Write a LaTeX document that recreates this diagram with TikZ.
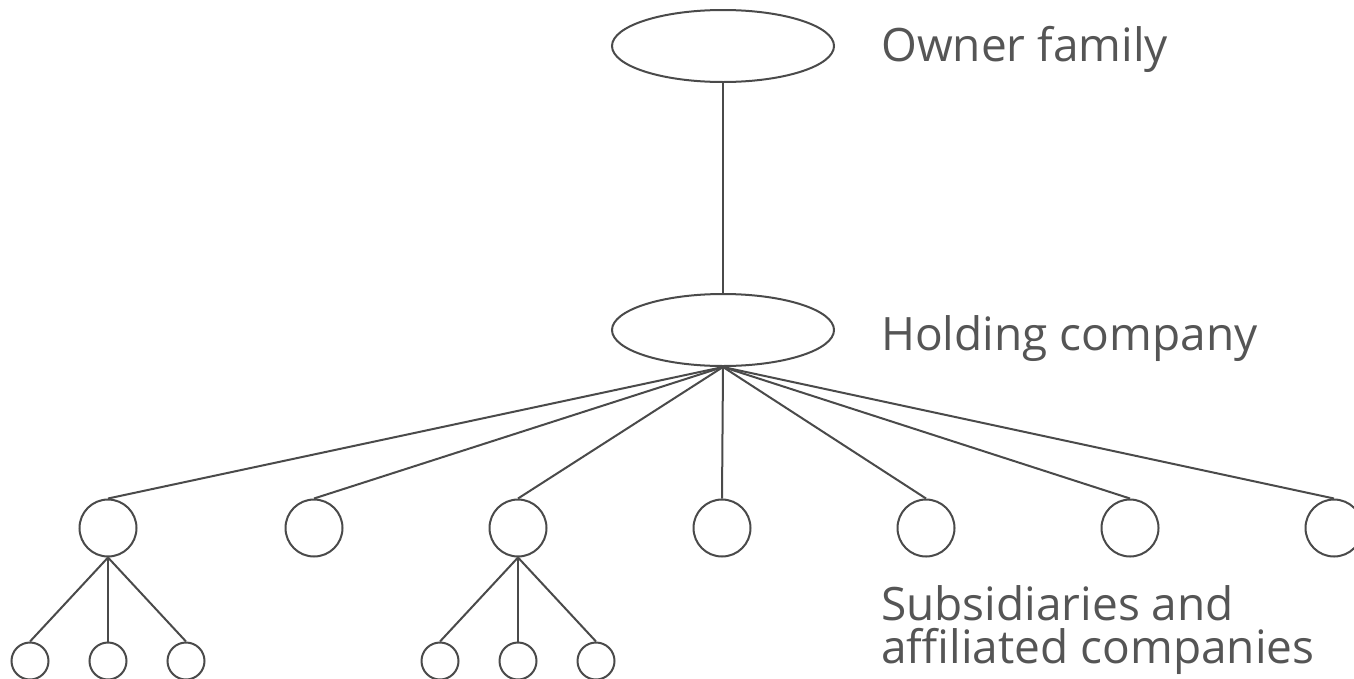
\documentclass[tikz,border=0pt]{standalone}
\usepackage{fontspec}
\setmainfont{Open Sans}
\usetikzlibrary{shapes.geometric}
\definecolor{ink}{HTML}{4A4A4A}
\definecolor{txt}{HTML}{555555}
\tikzset{
  entity/.style={ellipse, draw=ink, line width=2pt, inner sep=0pt, minimum width=222pt, minimum height=72pt},
  firm/.style={circle, draw=ink, line width=2pt, inner sep=0pt, minimum size=57pt},
  unit/.style={circle, draw=ink, line width=2pt, inner sep=0pt, minimum size=37pt},
  link/.style={draw=ink, line width=2pt},
  caption/.style={anchor=base west, inner sep=0pt, text=txt, font=\fontsize{46}{52}\selectfont},
}
\begin{document}
\begin{tikzpicture}[x=1pt, y=-1pt]
  \useasboundingbox (0,0) rectangle (1354,678);
  % family and holding level
  \node[entity] (own) at (723,46) {};
  \node[entity] (hold) at (723,330) {};
  \draw[link] (own.south) -- (hold.north);
  % first tier of companies
  \foreach \i/\x in {1/108, 2/314, 3/518, 4/722, 5/926, 6/1130, 7/1334} {
    \node[firm] (c\i) at (\x,528) {};
    \draw[link] (hold.south) -- (c\i.north);
  }
  % second tier under companies 1 and 3
  \foreach \p/\x in {1/108, 3/518} {
    \foreach \j/\dx in {a/-78, b/0, c/78} {
      \node[unit] (d\p\j) at (\x+\dx,661) {};
      \draw[link] (c\p.south) -- (d\p\j.north);
    }
  }
  % labels
  \node[caption] (lown) at (881,61) {Owner family};
  \node[caption] (lhold) at (881,350) {Holding company};
  \node[caption] (lsub1) at (881,620) {Subsidiaries and};
  \node[caption] (lsub2) at (881,663) {affiliated companies};
\end{tikzpicture}
\end{document}
